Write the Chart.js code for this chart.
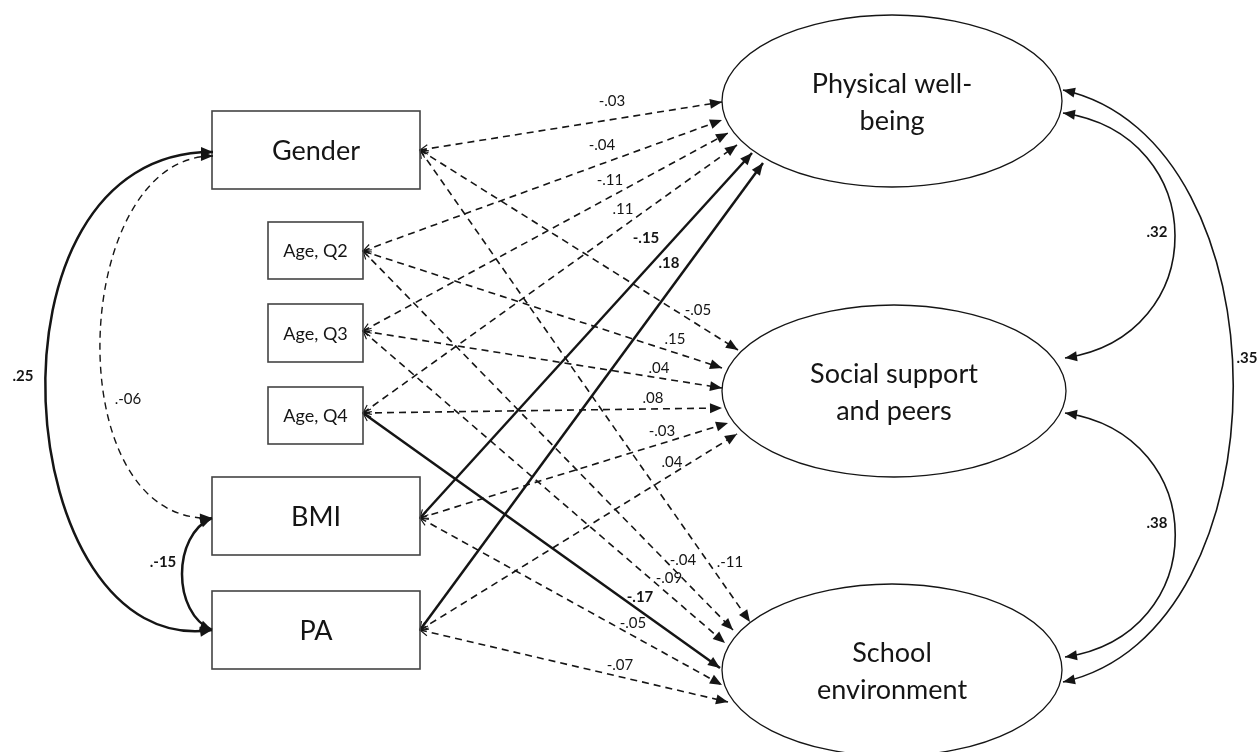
<!DOCTYPE html>
<html>
<head>
<meta charset="utf-8">
<title>Path model</title>
<script src="https://cdn.jsdelivr.net/npm/chart.js@4.4.1/dist/chart.umd.min.js"></script>
<style>
  html, body { margin: 0; padding: 0; background: #fff; }
  #wrap { width: 1257px; height: 752px; }
</style>
</head>
<body>
<div id="wrap"><canvas id="pathChart" width="1257" height="752"></canvas></div>
<script>
// observed predictors (left) and latent outcomes (right)
const predictors = ['Gender', 'Age, Q2', 'Age, Q3', 'Age, Q4', 'BMI', 'PA'];
const outcomes = [['Physical well-', 'being'], ['Social support', 'and peers'], ['School', 'environment']];

// standardised path coefficients, in predictor order
const coefPhysical = ['-.03', '-.04', '-.11', '.11', '-.15', '.18'];
const coefSocial = ['-.05', '.15', '.04', '.08', '-.03', '.04'];
const coefSchool = ['.-11', '-.04', '-.09', '-.17', '-.05', '-.07'];
// significant paths: solid line, bold label
const sigPhysical = [false, false, false, false, true, true];
const sigSocial = [false, false, false, false, false, false];
const sigSchool = [false, false, false, true, false, false];

// covariances: [from, to, label, significant]
const predictorCov = [['Gender', 'PA', '.25', true], ['Gender', 'BMI', '.-06', false], ['BMI', 'PA', '.-15', true]];
const outcomeCov = [[0, 1, '.32'], [1, 2, '.38'], [0, 2, '.35']];

// ---------- layout, in figure pixels (x right, y down) ----------
const boxLayout = [
  { x0: 212, y0: 111, x1: 420, y1: 189, font: 27 },
  { x0: 268, y0: 222, x1: 363, y1: 279, font: 18 },
  { x0: 268, y0: 304, x1: 363, y1: 362, font: 18 },
  { x0: 268, y0: 387, x1: 363, y1: 444, font: 18 },
  { x0: 212, y0: 477, x1: 420, y1: 555, font: 27 },
  { x0: 212, y0: 591, x1: 420, y1: 669, font: 27 }
];
const sourceAt = [[420, 150], [363, 251], [363, 331], [363, 413], [420, 518], [420, 630]];
const ellipseLayout = [
  { cx: 892, cy: 101, rx: 170, ry: 86 },
  { cx: 894, cy: 391, rx: 172, ry: 86 },
  { cx: 892, cy: 670, rx: 170, ry: 86 }
];
const tipsPhysical = [[722, 102], [722, 120], [728, 133], [737, 145], [752, 153], [763, 163]];
const tipsSocial = [[738, 350], [722, 368], [722, 388], [722, 408], [728, 423], [737, 434]];
const tipsSchool = [[750, 622], [733, 630], [725, 643], [720, 668], [722, 685], [728, 702]];
const labPhysical = [[612, 101], [602, 145], [610, 180], [623, 209], [646, 238], [669, 263]];
const labSocial = [[698, 310], [675, 339], [659, 368], [653, 398], [662, 431], [672, 462]];
const labSchool = [[730, 562], [683, 560], [669, 578], [640, 597], [633, 623], [620, 665]];

// covariance curves (cubic bezier: start, ctrl1, ctrl2, end) and label spot
const predictorCovCurve = [
  { p: [[213, 152], [-30, 150], [10, 660], [212, 630]], lab: [23, 376], w: 2.5 },
  { p: [[213, 156], [70, 155], [55, 525], [212, 518]], lab: [128, 399], w: 1.4 },
  { p: [[212, 518], [172, 535], [172, 613], [212, 630]], lab: [163, 562], w: 2.5 }
];
const outcomeCovCurve = [
  { p: [[1063, 113], [1212, 135], [1212, 336], [1065, 358]], lab: [1157, 232] },
  { p: [[1065, 413], [1212, 435], [1212, 635], [1065, 657]], lab: [1157, 523] },
  { p: [[1063, 90], [1290, 140], [1290, 632], [1063, 682]], lab: [1247, 358] }
];

const INK = '#151515';
const FONT = 'Lato, "Open Sans", sans-serif';

function pathSets(outcomeIdx, coefs, sig, tips, labs) {
  return predictors.map((p, i) => ({
    label: p + ' -> ' + outcomes[outcomeIdx].join(' '),
    data: [{ x: sourceAt[i][0], y: sourceAt[i][1] }, { x: tips[i][0], y: tips[i][1] }],
    showLine: true,
    borderColor: INK,
    borderWidth: sig[i] ? 2.5 : 1.6,
    borderDash: sig[i] ? [] : [7, 5],
    pointRadius: 0,
    coef: coefs[i],
    sig: sig[i],
    labAt: labs[i]
  }));
}

const datasets = [].concat(
  pathSets(0, coefPhysical, sigPhysical, tipsPhysical, labPhysical),
  pathSets(1, coefSocial, sigSocial, tipsSocial, labSocial),
  pathSets(2, coefSchool, sigSchool, tipsSchool, labSchool)
);

function arrowHead(ctx, tx, ty, ux, uy, len, half) {
  ctx.beginPath();
  ctx.moveTo(tx, ty);
  ctx.lineTo(tx - ux * len - uy * half, ty - uy * len + ux * half);
  ctx.lineTo(tx - ux * len + uy * half, ty - uy * len - ux * half);
  ctx.closePath();
  ctx.fill();
}

const diagramPlugin = {
  id: 'diagram',
  afterDatasetsDraw(chart) {
    const ctx = chart.ctx;
    const sx = chart.scales.x, sy = chart.scales.y;
    const X = v => sx.getPixelForValue(v), Y = v => sy.getPixelForValue(v);
    ctx.save();
    ctx.fillStyle = INK;
    ctx.strokeStyle = INK;
    ctx.textAlign = 'center';
    ctx.textBaseline = 'middle';

    // arrowheads, source marks and coefficient labels for the regression paths
    chart.data.datasets.forEach((ds, i) => {
      const pts = chart.getDatasetMeta(i).data;
      const a = pts[0], b = pts[1];
      const dx = b.x - a.x, dy = b.y - a.y, L = Math.hypot(dx, dy);
      const ux = dx / L, uy = dy / L;
      arrowHead(ctx, b.x, b.y, ux, uy, 12, 5);
      ctx.setLineDash([]);
      ctx.lineWidth = 1.1;
      ctx.beginPath();
      ctx.moveTo(a.x + ux * 8 - uy * 4, a.y + uy * 8 + ux * 4);
      ctx.lineTo(a.x, a.y);
      ctx.lineTo(a.x + ux * 8 + uy * 4, a.y + uy * 8 - ux * 4);
      ctx.stroke();
      ctx.font = (ds.sig ? 'bold ' : '') + '15px ' + FONT;
      ctx.fillText(ds.coef, X(ds.labAt[0]), Y(ds.labAt[1]));
    });

    // boxes
    ctx.lineWidth = 1.6;
    ctx.strokeStyle = '#444';
    boxLayout.forEach((bx, i) => {
      ctx.strokeRect(X(bx.x0), Y(bx.y0), X(bx.x1) - X(bx.x0), Y(bx.y1) - Y(bx.y0));
      ctx.font = bx.font + 'px ' + FONT;
      ctx.fillText(predictors[i], X((bx.x0 + bx.x1) / 2), Y((bx.y0 + bx.y1) / 2) + 1);
    });

    // latent ellipses
    ctx.strokeStyle = INK;
    ctx.lineWidth = 1.3;
    ellipseLayout.forEach((e, i) => {
      ctx.beginPath();
      ctx.ellipse(X(e.cx), Y(e.cy), Math.abs(X(e.cx + e.rx) - X(e.cx)), Math.abs(Y(e.cy + e.ry) - Y(e.cy)), 0, 0, Math.PI * 2);
      ctx.stroke();
      ctx.font = '27px ' + FONT;
      ctx.fillText(outcomes[i][0], X(e.cx), Y(e.cy - 17));
      ctx.fillText(outcomes[i][1], X(e.cx), Y(e.cy + 20));
    });

    // two-headed covariance curves
    const curve = (c, width, dash, label, bold) => {
      const p = c.p.map(q => [X(q[0]), Y(q[1])]);
      ctx.lineWidth = width;
      ctx.setLineDash(dash);
      ctx.beginPath();
      ctx.moveTo(p[0][0], p[0][1]);
      ctx.bezierCurveTo(p[1][0], p[1][1], p[2][0], p[2][1], p[3][0], p[3][1]);
      ctx.stroke();
      ctx.setLineDash([]);
      let dx = p[3][0] - p[2][0], dy = p[3][1] - p[2][1], L = Math.hypot(dx, dy);
      arrowHead(ctx, p[3][0], p[3][1], dx / L, dy / L, 12, 5);
      dx = p[0][0] - p[1][0]; dy = p[0][1] - p[1][1]; L = Math.hypot(dx, dy);
      arrowHead(ctx, p[0][0], p[0][1], dx / L, dy / L, 12, 5);
      ctx.font = (bold ? 'bold ' : '') + '15px ' + FONT;
      ctx.fillText(label, X(c.lab[0]), Y(c.lab[1]));
    };
    predictorCov.forEach((cv, i) => {
      const c = predictorCovCurve[i];
      curve(c, cv[3] ? c.w : 1.4, cv[3] ? [] : [7, 5], cv[2], cv[3]);
    });
    outcomeCov.forEach((cv, i) => curve(outcomeCovCurve[i], 1.6, [], cv[2], true));

    ctx.restore();
  }
};

new Chart(document.getElementById('pathChart'), {
  type: 'scatter',
  data: { datasets: datasets },
  options: {
    responsive: false,
    animation: false,
    devicePixelRatio: 1,
    layout: { padding: 0 },
    plugins: { legend: { display: false }, tooltip: { enabled: false } },
    scales: {
      x: { type: 'linear', min: 0, max: 1257, display: false },
      y: { type: 'linear', min: 0, max: 752, reverse: true, display: false }
    }
  },
  plugins: [diagramPlugin]
});
</script>
</body>
</html>
